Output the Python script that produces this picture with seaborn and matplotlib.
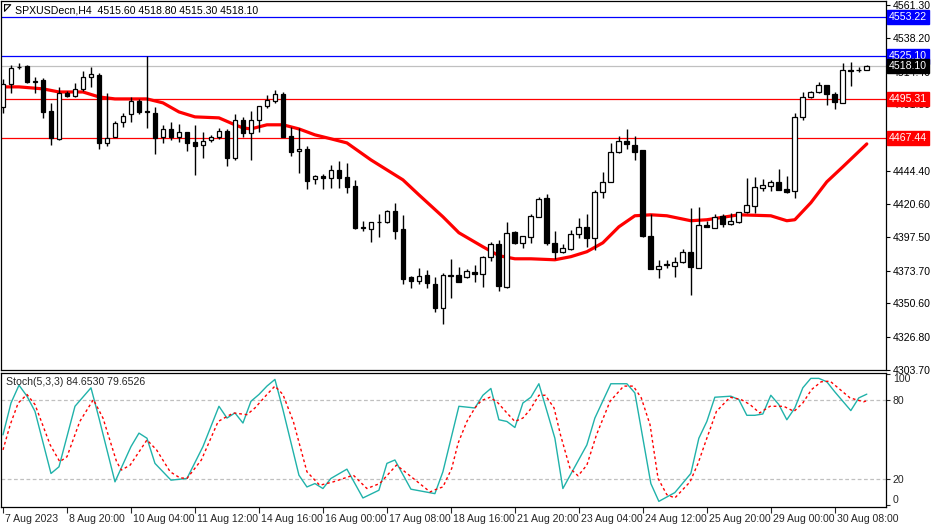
import numpy as np
import pandas as pd
import matplotlib
matplotlib.use("Agg")
import matplotlib.pyplot as plt
import matplotlib.transforms as mtransforms
import seaborn as sns

sns.set_theme(style="white")
plt.rcParams['font.family'] = ['Liberation Sans', 'DejaVu Sans']

opens = [4489.5,4505.7,4517.7,4518.4,4507.1,4508.5,4486.6,4466.9,4499.3,4497.2,
         4502.2,4510.6,4512.1,4464.0,4468.3,4478.9,4484.5,4493.7,4486.3,4485.2,
         4468.3,4473.9,4468.3,4471.8,4464.7,4462.6,4466.2,4468.3,4472.5,4453.5,
         4480.3,4471.1,4480.3,4490.2,4493.7,4498.6,4469.0,4458.4,4459.8,4438.6,
         4440.9,4439.3,4445.0,4440.2,4433.7,4404.7,4403.3,4408.3,4408.3,4416.0,
         4403.3,4369.4,4366.6,4370.9,4364.5,4347.6,4370.1,4370.9,4369.4,4373.0,
         4371.6,4383.6,4392.7,4362.4,4401.2,4393.4,4397.7,4411.8,4425.2,4393.4,
         4387.1,4389.2,4399.8,4404.7,4397.0,4429.4,4436.5,4457.7,4465.5,4462.6,
         4459.1,4398.4,4375.1,4377.9,4377.2,4380.0,4387.1,4375.8,4406.2,4404.0,
         4412.5,4406.9,4408.3,4415.3,4419.6,4432.3,4433.7,4436.5,4431.6,4430.2,
         4482.4,4496.5,4500.0,4505.0,4498.6,4492.3,4515.6,4515.6,4515.6]
highs = [4509.2,4519.1,4520.5,4519.1,4510.6,4509.9,4492.3,4503.6,4500.8,4506.4,
         4514.9,4517.7,4513.5,4499.3,4479.6,4485.2,4496.5,4495.1,4525.5,4489.5,
         4476.8,4478.9,4477.5,4471.8,4476.8,4471.8,4469.7,4474.6,4473.9,4484.5,
         4482.4,4486.6,4490.2,4497.9,4501.5,4500.0,4475.3,4474.6,4461.9,4441.5,
         4442.2,4448.5,4451.3,4449.9,4437.9,4409.0,4408.3,4413.9,4416.7,4421.7,
         4413.2,4370.1,4375.8,4374.4,4369.4,4372.3,4382.1,4376.5,4375.1,4377.9,
         4384.3,4394.2,4395.6,4408.3,4401.5,4398.4,4413.9,4425.9,4428.0,4401.9,
         4392.7,4402.6,4411.1,4413.9,4430.9,4443.6,4464.0,4469.0,4473.9,4469.0,
         4459.3,4413.9,4381.4,4381.4,4383.6,4389.2,4418.2,4418.9,4409.0,4413.9,
         4413.9,4414.6,4415.3,4439.3,4440.2,4438.6,4437.9,4445.7,4440.9,4485.2,
         4500.0,4500.8,4507.1,4505.2,4500.0,4520.5,4521.2,4517.7,4518.8]
lows = [4485.2,4499.3,4516.3,4506.4,4499.3,4481.7,4462.6,4466.2,4496.5,4496.5,
        4500.8,4503.6,4459.8,4461.9,4468.0,4475.3,4478.9,4484.5,4474.6,4456.3,
        4464.0,4466.2,4464.7,4458.4,4441.5,4453.5,4464.7,4466.9,4447.8,4452.0,
        4468.3,4452.0,4471.8,4488.8,4492.3,4467.9,4454.9,4442.9,4431.6,4435.1,
        4431.6,4432.3,4432.3,4428.7,4403.3,4401.9,4394.2,4397.7,4407.6,4396.3,
        4364.5,4361.7,4364.5,4361.7,4344.7,4336.3,4354.6,4365.9,4368.7,4365.9,
        4362.4,4380.7,4359.6,4361.7,4392.7,4389.9,4393.4,4411.8,4392.0,4382.1,
        4386.4,4388.5,4397.0,4390.6,4388.5,4425.2,4436.3,4457.0,4459.8,4452.0,
        4397.7,4374.9,4368.7,4375.8,4369.4,4379.3,4356.7,4375.6,4404.7,4403.8,
        4404.7,4406.2,4407.6,4414.6,4414.6,4430.2,4430.2,4430.9,4428.7,4425.2,
        4480.3,4495.8,4499.3,4490.9,4488.0,4492.1,4504.3,4514.2,4515.3]
closes = [4505.7,4517.0,4517.4,4507.1,4507.4,4485.9,4467.6,4499.3,4497.2,4502.2,
          4510.6,4512.8,4464.0,4467.6,4478.2,4483.1,4493.7,4485.9,4485.9,4467.6,
          4473.9,4468.3,4471.8,4464.0,4461.9,4465.5,4468.3,4472.5,4453.5,4480.3,
          4471.1,4480.3,4490.2,4494.4,4498.6,4468.3,4457.7,4459.8,4437.2,4440.9,
          4439.3,4445.0,4439.3,4433.0,4404.0,4404.0,4408.3,4408.0,4416.0,4401.9,
          4368.0,4366.6,4370.1,4365.2,4347.6,4370.9,4370.9,4365.9,4373.7,4371.6,
          4383.6,4392.7,4363.1,4400.5,4393.4,4398.4,4412.5,4424.5,4393.4,4387.1,
          4389.9,4399.8,4404.7,4397.0,4429.4,4436.5,4457.7,4465.5,4463.3,4457.7,
          4397.9,4375.1,4377.2,4377.8,4380.0,4387.1,4376.5,4406.2,4404.7,4411.8,
          4406.9,4409.0,4415.3,4420.3,4433.0,4434.4,4436.5,4430.9,4429.4,4482.4,
          4496.5,4500.0,4505.0,4498.6,4493.0,4515.6,4514.9,4515.3,4518.1]

ma_bar = [0,2,5,7,10,12,14,18,20,22,24,27,29,30,31,33,35,37,39,41,43,46,50,52,55,57,60,62,64,66,
          69,71,73,75,77,79,81,83,86,88,92,96,98,99,101,103,105,108]
ma_val = [4503.6,4503.6,4502.2,4500.0,4500.0,4496.5,4495.1,4495.1,4492.3,4485.9,4482.4,4481.7,
          4476.8,4474.6,4473.9,4476.8,4476.8,4473.9,4469.7,4466.9,4464.0,4452.0,4437.9,4427.3,
          4411.8,4400.5,4390.6,4384.3,4382.1,4382.1,4381.4,4383.6,4387.1,4393.4,4404.7,4412.5,
          4413.2,4412.5,4409.0,4409.7,4413.2,4412.5,4409.0,4409.7,4421.7,4436.5,4447.1,4463.3]

k_bar = [0,1,2,3,4,6,7,9,11,12,14,16,17,18,19,21,23,25,27,28,29,30,31,32,33,34,35,37,38,39,40,41,
         43,45,47,48,49,51,54,55,57,59,60,61,62,63,64,65,66,67,69,70,73,74,76,78,79,81,82,84,86,87,
         88,89,91,92,93,94,95,96,97,98,99,100,101,102,103,104,106,107,108]
k_val = [53.6,77.9,91.5,83.1,71.5,24.1,29.2,75.4,89.5,66.4,17.7,44.6,54.9,51.0,31.8,19.0,20.3,44.6,
         75.4,66.4,70.3,62.6,79.2,84.4,90.8,95.9,72.8,22.8,13.8,16.4,12.6,20.3,27.4,5.4,11.3,31.8,
         34.4,12.1,8.7,25.4,75.4,74.1,83.8,89.0,65.1,63.8,59.2,77.9,82.3,92.6,51.0,12.6,45.9,66.4,
         92.6,92.6,85.6,16.4,2.8,9.5,24.1,51.0,63.8,82.3,83.1,80.5,68.5,68.5,69.5,83.8,76.7,65.1,
         74.1,89.5,96.7,96.7,94.1,86.4,72.1,81.8,84.65]
d_bar = [0,0.9,1.9,3,4,5.9,7.1,8,9.6,11.3,12.5,14.2,14.8,15.9,18,19.2,20.9,22.1,23,24.8,26.9,28.8,
         30.5,31.5,33,34,35,36.3,38,39.6,41.3,43.8,45.5,47.1,49.2,51.3,53.4,54.4,55,56.1,56.9,58,59,
         59.8,60.9,61.9,63,64,65,65.9,67,67.8,68.9,69.7,70.9,71.9,73,74.2,75.9,77.6,78.8,79.8,80.9,
         81.9,83,84,85.9,86.9,88,89.2,90.9,92.3,93.4,94.6,95.9,97.6,98.9,100,101.1,102.3,103.4,104.4,
         105.9,107.6,108]
d_val = [42.1,61.3,77.9,84.4,76.7,45.9,33.1,36.9,63.8,80.5,66.4,33.1,26.7,30.5,49.7,42.1,25.4,20.8,
         20.3,34.4,63.8,70.3,69.0,74.1,84.4,90.8,84.4,63.8,25.4,15.1,17.7,22.8,12.6,16.4,30.5,20.3,
         10.0,12.6,13.8,27.9,47.2,63.8,74.1,79.7,82.3,77.9,70.3,63.8,66.4,72.8,83.8,83.8,74.1,53.6,
         27.9,22.3,30.5,53.6,79.2,90.8,90.8,81.8,61.3,20.3,7.9,5.4,17.7,31.8,51.0,71.5,82.3,80.5,
         76.7,70.3,75.4,75.4,71.5,77.9,88.2,94.1,94.6,89.5,81.8,78.8,79.65]

tick_bars = [0,8,16,24,32,40,48,56,64,72,80,88,96,104]
tick_labels = ["7 Aug 2023","8 Aug 20:00","10 Aug 04:00","11 Aug 12:00","14 Aug 16:00",
               "16 Aug 00:00","17 Aug 08:00","18 Aug 16:00","21 Aug 20:00","23 Aug 04:00",
               "24 Aug 12:00","25 Aug 20:00","29 Aug 00:00","30 Aug 08:00"]
price_ticks = [4561.30,4538.20,4514.40,4491.30,4444.40,4420.60,4397.50,4373.70,4350.60,4326.80,4303.70]
levels = [(4553.22,'#0000ff'),(4525.10,'#0000ff'),(4495.31,'#ff0000'),(4467.44,'#ff0000')]
bid = 4518.10

W, H = 931, 527
fig = plt.figure(figsize=(W/100, H/100), dpi=100)
fig.patch.set_facecolor('white')
ax = fig.add_axes([1/W, 1-370/H, 885/W, 369/H])
ax2 = fig.add_axes([1/W, 1-507/H, 885/W, 134/H], sharex=ax)
FS = 7.6

xl = (-0.25, 110.4)
n = len(opens)
idx = np.arange(n)
o = np.array(opens); c = np.array(closes)
ax.vlines(idx, lows, highs, color='black', lw=1, zorder=3)
body_b = np.minimum(o, c)
body_h = np.maximum(np.abs(c - o), 0.45)
cols = ['white' if cc > oo else 'black' for oo, cc in zip(o, c)]
ax.bar(idx, body_h, bottom=body_b, width=0.6, color=cols, edgecolor='black', linewidth=0.9, zorder=4)

for lv, col in levels:
    ax.axhline(lv, color=col, lw=0.9, zorder=1)
ax.axhline(bid, color='#c0c0c0', lw=0.9, zorder=1)

ma_df = pd.DataFrame({'bar': ma_bar, 'ma': ma_val})
sns.lineplot(data=ma_df, x='bar', y='ma', ax=ax, color='#ff0000', lw=2.3, zorder=2)

ax.set_xlim(*xl)
ax.set_ylim(4303.5, 4564.3)
ax.yaxis.tick_right()
ax.set_yticks(price_ticks)
ax.set_yticklabels([f"{p:.2f}" for p in price_ticks], fontsize=FS)
ax.tick_params(axis='y', length=3, width=0.8, pad=2, colors='black', direction='out')
ax.tick_params(axis='x', bottom=False, labelbottom=False)
ax.set_xlabel(''); ax.set_ylabel('')
for s in ax.spines.values():
    s.set_color('black'); s.set_linewidth(0.9)

trans = mtransforms.blended_transform_factory(ax.transAxes, ax.transData)
for lv, col in levels + [(bid, 'black')]:
    ax.text(1.003, lv, f"{lv:.2f}", transform=trans, fontsize=FS, color='white', va='center', ha='left',
            bbox=dict(boxstyle='square,pad=0.2', fc=col, ec=col), zorder=10, clip_on=False)

ax.text(0.016, 0.988, "SPXUSDecn,H4  4515.60 4518.80 4515.30 4518.10", transform=ax.transAxes,
        fontsize=FS, va='top', ha='left', color='black')
ax.plot([0.004, 0.011, 0.004, 0.004], [0.99, 0.99, 0.972, 0.99], transform=ax.transAxes, color='black', lw=0.8)

# Stochastic
ax2.axhline(80, color='#c0c0c0', ls=(0, (3, 2)), lw=0.9)
ax2.axhline(20, color='#c0c0c0', ls=(0, (3, 2)), lw=0.9)
k_df = pd.DataFrame({'bar': k_bar, 'k': k_val})
d_df = pd.DataFrame({'bar': d_bar, 'd': d_val})
sns.lineplot(data=k_df, x='bar', y='k', ax=ax2, color='#20b2aa', lw=1.0)
sns.lineplot(data=d_df, x='bar', y='d', ax=ax2, color='#ff0000', lw=1.0, ls=(0, (2, 2)))
ax2.set_ylim(-1.5, 100.8)
ax2.set_xlim(*xl)
ax2.yaxis.tick_right()
ax2.set_yticks([100, 80, 20, 0])
ax2.set_yticklabels(['100', '80', '20', '0'], fontsize=FS)
ylabs = ax2.get_yticklabels()
ylabs[0].set_va('top')
ylabs[3].set_va('bottom')
ax2.tick_params(axis='y', length=3, width=0.8, pad=2, direction='out')
ax2.set_xticks(tick_bars)
ax2.set_xticklabels(tick_labels, fontsize=FS, ha='left')
ax2.tick_params(axis='x', length=4, width=0.8, pad=1, direction='out', bottom=True)
for lab in ax2.get_xticklabels():
    lab.set_transform(lab.get_transform() + mtransforms.ScaledTranslation(2/100, 0, fig.dpi_scale_trans))
ax2.set_xlabel(''); ax2.set_ylabel('')
for s in ax2.spines.values():
    s.set_color('black'); s.set_linewidth(0.9)
ax2.text(0.006, 0.97, "Stoch(5,3,3) 84.6530 79.6526", transform=ax2.transAxes, fontsize=FS, va='top', ha='left')

fig.savefig('out.png', dpi=100, facecolor='white')
